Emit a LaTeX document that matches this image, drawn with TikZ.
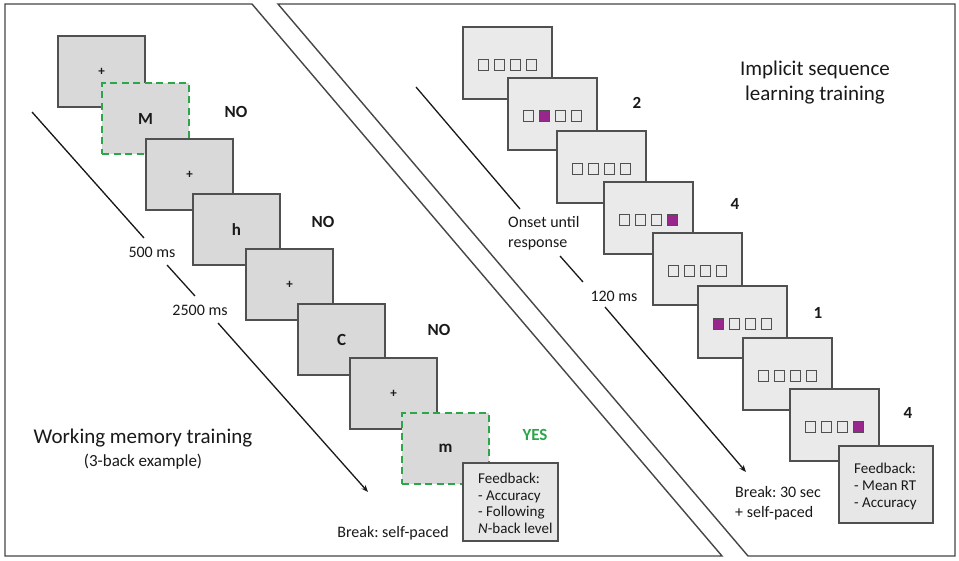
\documentclass[tikz,border=0pt]{standalone}
\usepackage{fontspec}
\setmainfont{Carlito}
\usetikzlibrary{arrows.meta}
\frenchspacing

\definecolor{frameline}{RGB}{70,70,70}
\definecolor{boxline}{RGB}{80,80,80}
\definecolor{wmfill}{RGB}{217,217,217}
\definecolor{islfill}{RGB}{234,234,234}
\definecolor{fbfill}{RGB}{231,231,231}
\definecolor{cue}{RGB}{45,165,75}
\definecolor{target}{RGB}{152,38,140}
\definecolor{ink}{RGB}{25,25,25}

\tikzset{
  panel/.style={draw=frameline, line width=1.4pt, line join=miter},
  wmbox/.style={draw=boxline, fill=wmfill, line width=1.4pt,
    minimum width=87pt, minimum height=71pt, inner sep=0pt,
    text=ink, font=\fontsize{17}{20}\selectfont\bfseries},
  cuebox/.style={wmbox, draw=cue, dash pattern=on 7pt off 4.5pt, line width=2.3pt},
  fixation/.style={wmbox, font=\fontsize{13}{13}\selectfont\bfseries},
  islbox/.style={draw=boxline, fill=islfill, line width=1.4pt,
    minimum width=89pt, minimum height=72pt, inner sep=0pt},
  keybox/.style={draw=boxline, line width=1.4pt, minimum size=10.5pt, inner sep=0pt},
  fbbox/.style={draw=boxline, fill=fbfill, line width=1.4pt, inner sep=0pt},
  fbtext/.style={anchor=west, align=left, inner sep=0pt, text=ink,
    font=\fontsize{15}{16.6}\selectfont},
  lbl/.style={inner sep=0pt, text=ink, font=\fontsize{16}{20}\selectfont},
  resp/.style={inner sep=0pt, text=ink, font=\fontsize{17}{20}\selectfont\bfseries},
  title/.style={inner sep=0pt, text=ink, align=center, font=\fontsize{21}{25}\selectfont},
  timeline/.style={draw=ink, line width=1.3pt},
  timearrow/.style={timeline, -{Stealth[length=7pt,width=5.5pt]}}
}

\begin{document}
\begin{tikzpicture}[x=1pt, y=-1pt]
\useasboundingbox (0,0) rectangle (959,560);
\fill[white] (0,0) rectangle (959,560);

% the two panels
\draw[panel] (5,4) -- (252,4) -- (722,556) -- (5,556) -- cycle;
\draw[panel] (278,4) -- (955,4) -- (955,556) -- (748,556) -- cycle;

% ---------- working memory training (3-back) ----------
\node[fixation] (w1) at (101.5,71.5) {+};
\node[cuebox]   (w2) at (145.5,118.5) {M};
\node[fixation] (w3) at (189.5,174.5) {+};
\node[wmbox]    (w4) at (236.5,229.5) {h};
\node[fixation] (w5) at (289.5,284.5) {+};
\node[wmbox]    (w6) at (341.5,339.5) {C};
\node[fixation] (w7) at (393.5,393.5) {+};
\node[cuebox]   (w8) at (445.5,448.5) {m};

\node[fbbox, minimum width=95pt, minimum height=78pt] (wfb) at (510.5,502) {};
\node[fbtext] (wfbt) at (478,503.5)
  {Feedback:\\- Accuracy\\- Following\\\textit{N}-back level};

\node[resp] (wr1) at (236,112) {NO};
\node[resp] (wr2) at (323,222) {NO};
\node[resp] (wr3) at (439,330) {NO};
\node[resp, text=cue] (wr4) at (535,435) {YES};

\node[lbl] (wt1) at (152,252) {500 ms};
\node[lbl] (wt2) at (200,310) {2500 ms};
\node[lbl] (wbrk) at (393,533) {Break: self-paced};

\coordinate (wa0) at (32,112);
\coordinate (wa1) at (144,238);
\coordinate (wa2) at (167,265);
\coordinate (wa3) at (195,296);
\coordinate (wa4) at (218,323);
\coordinate (wa5) at (368,492);
\draw[timeline] (wa0) -- (wa1);
\draw[timeline] (wa2) -- (wa3);
\draw[timearrow] (wa4) -- (wa5);

\node[title] (wtitle) at (143,438) {Working memory training};
\node[title, font=\fontsize{17}{20}\selectfont] (wsub) at (143,462) {(3-back example)};

% ---------- implicit sequence learning training ----------
\foreach \i/\cx/\cy/\lit in {1/507.5/63/0, 2/552.5/114/2, 3/601.5/167/0,
    4/648.5/218/4, 5/697.5/269/0, 6/742.5/322/1, 7/787.5/374/0, 8/834.5/425/4} {
  \node[islbox] (s\i) at (\cx,\cy) {};
  \foreach \k/\dx in {1/-24,2/-8,3/8,4/24} {
    \ifnum\k=\lit\relax \def\keyfill{target}\else \def\keyfill{islfill}\fi
    \node[keybox, fill=\keyfill] (s\i k\k) at ([xshift=\dx pt, yshift=-2pt]s\i.center) {};
  }
}

\node[fbbox, minimum width=94pt, minimum height=77pt] (sfb) at (886,484.5) {};
\node[fbtext, font=\fontsize{15}{17}\selectfont] (sfbt) at (854,486)
  {Feedback:\\- Mean RT\\- Accuracy};

\node[resp] (sr1) at (637,103) {2};
\node[resp] (sr2) at (735,204) {4};
\node[resp] (sr3) at (818,313) {1};
\node[resp] (sr4) at (908,413) {4};

\node[lbl, anchor=west, align=left] (st1) at (508,233) {Onset until\\response};
\node[lbl] (st2) at (614,296) {120 ms};
\node[lbl, anchor=west, align=left] (sbrk) at (735,503) {Break: 30 sec\\+ self-paced};

\coordinate (sa0) at (416,87);
\coordinate (sa1) at (520,209);
\coordinate (sa2) at (560,256);
\coordinate (sa3) at (583,282);
\coordinate (sa4) at (605,307);
\coordinate (sa5) at (746,472);
\draw[timeline] (sa0) -- (sa1);
\draw[timeline] (sa2) -- (sa3);
\draw[timearrow] (sa4) -- (sa5);

\node[title] (stitle) at (815,82.5) {Implicit sequence\\learning training};
\end{tikzpicture}
\end{document}
